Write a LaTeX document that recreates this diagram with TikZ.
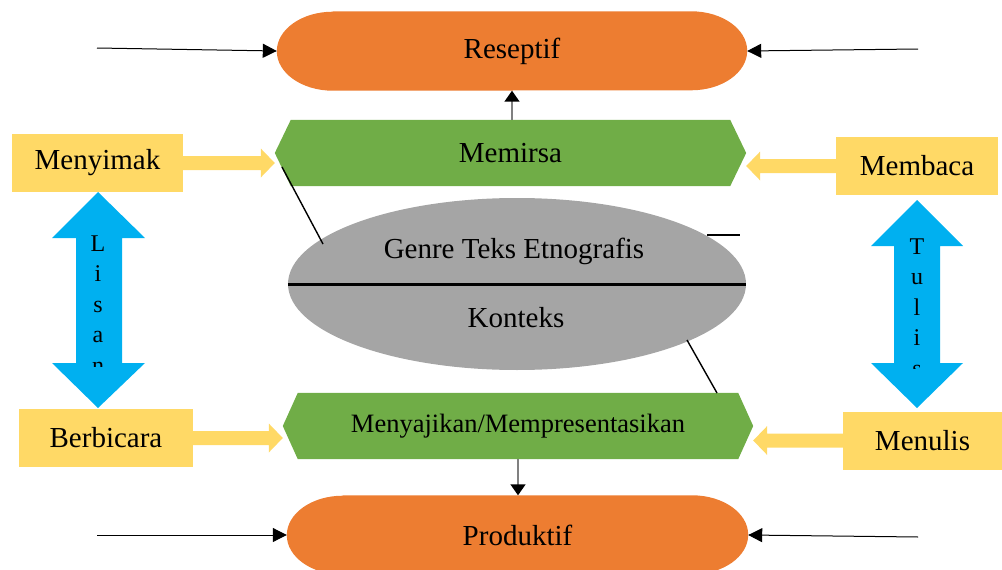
\documentclass[tikz,border=0pt]{standalone}
\usepackage{fontspec}
\setmainfont{Liberation Serif}
\usetikzlibrary{arrows.meta,calc,shapes.geometric,backgrounds}
\definecolor{oranye}{HTML}{ED7D31}
\definecolor{hijau}{HTML}{70AD47}
\definecolor{abu}{HTML}{A5A5A5}
\definecolor{kuning}{HTML}{FFD966}
\definecolor{biru}{HTML}{00B0F0}
\newcommand{\bigfont}{\fontsize{29}{34}\selectfont}
\newcommand{\smallfont}{\fontsize{26.5}{30}\selectfont}
\newcommand{\letterfont}{\fontsize{24}{28}\selectfont}
% yellow block arrow from a box to a hexagon tip
\newcommand{\fatarrow}[2]{%
  \fill[kuning] let \p1=#1, \p2=#2, \n1={sign(\x2-\x1)} in
    (\x1,{\y1+7pt}) -- ({\x2-14pt*(\n1)},{\y1+7pt}) -- ({\x2-14pt*(\n1)},{\y1+14.5pt})
    -- (\x2,\y1) -- ({\x2-14pt*(\n1)},{\y1-14.5pt}) -- ({\x2-14pt*(\n1)},{\y1-7pt})
    -- (\x1,{\y1-7pt}) -- cycle;}
% green hexagon behind a node
\newcommand{\hexfill}[2]{%
  \fill[hijau] (#1.west) -- ($(#1.north west)+(#2,0)$) -- ($(#1.north east)+(-#2,0)$)
    -- (#1.east) -- ($(#1.south east)+(-#2,0)$) -- ($(#1.south west)+(#2,0)$) -- cycle;}
% orange capsule with elliptic ends behind a node
\newcommand{\capfill}[1]{%
  \fill[oranye] ($(#1.north west)+(56,0)$) -- ($(#1.north east)+(-56,0)$)
    arc[start angle=90, end angle=-90, x radius=56pt, y radius=39.5pt]
    -- ($(#1.south west)+(56,0)$)
    arc[start angle=-90, end angle=-270, x radius=56pt, y radius=39.5pt] -- cycle;}

\begin{document}
\begin{tikzpicture}[x=1pt, y=-1pt, every node/.style={font=\bigfont, inner sep=0pt},
    stadium/.style={minimum height=79pt},
    hexa/.style={minimum width=471pt, minimum height=66pt},
    kotak/.style={fill=kuning, minimum height=58pt},
    panah/.style={line width=1pt, -{Triangle[length=14pt,width=14pt]}},
    panahabu/.style={draw=gray, line width=1.5pt, -{Triangle[length=11pt,width=15pt,color=black]}},
    garis/.style={line width=1.4pt}]
  \useasboundingbox (0,0) rectangle (1002,570);

  % top and bottom
  \node[stadium, minimum width=470pt] (reseptif) at (512,51) {Reseptif};
  \node[stadium, minimum width=461pt] (produktif) at (517.5,535) {Produktif};

  % hexagons
  \node[hexa] (memirsa) at (510.5,153) {Memirsa};
  \node[hexa, minimum width=470pt] (menyajikan) at (518,426) {\smallfont Menyajikan/Mempresentasikan};
  \begin{scope}[on background layer]
    \capfill{reseptif}
    \capfill{produktif}
    \hexfill{memirsa}{16}
    \hexfill{menyajikan}{15}
  \end{scope}

  % ellipse
  \node[ellipse, fill=abu, minimum width=458pt, minimum height=172pt] (teks) at (517,284) {};
  \draw[line width=3pt] (teks.west) -- (teks.east);
  \node (genre) at (514,251) {Genre Teks Etnografis};
  \node (konteks) at (516,318) {Konteks};

  % yellow boxes
  \node[kotak, minimum width=171pt] (menyimak) at (97.5,163) {Menyimak};
  \node[kotak, minimum width=174pt] (berbicara) at (106,438) {Berbicara};
  \node[kotak, minimum width=162pt] (membaca) at (917,166) {Membaca};
  \node[kotak, minimum width=159pt] (menulis) at (922.5,440.5) {Menulis};

  \fatarrow{(menyimak.east)}{(memirsa.west)}
  \fatarrow{(berbicara.east)}{(menyajikan.west)}
  \fatarrow{(membaca.west)}{(memirsa.east)}
  \fatarrow{(menulis.west)}{(menyajikan.east)}

  % thin arrows
  \coordinate (ra) at (97,48);
  \coordinate (rb) at (918,49);
  \coordinate (pa) at (97,535);
  \coordinate (pb) at (918,537);
  \draw[panah] (ra) -- (reseptif.west);
  \draw[panah] (rb) -- (reseptif.east);
  \draw[panah] (pa) -- (produktif.west);
  \draw[panah] (pb) -- (produktif.east);
  \draw[panahabu] (memirsa.north -| reseptif.south) -- (reseptif.south);
  \draw[panahabu] (menyajikan.south) -- (menyajikan.south |- produktif.north);

  % loose lines
  \coordinate (l1) at (282,167);
  \coordinate (l2) at (323,244);
  \coordinate (l3) at (687,340);
  \coordinate (l4) at (717,393);
  \draw[garis] (l1) -- (l2);
  \draw[garis] (l3) -- (l4);
  \draw[line width=2pt] (707,235) -- (740,235);

  % blue double arrows
  \fill[biru] (98,192) -- (145,238) -- (122,238) -- (122,363) -- (145,363) -- (98,408)
    -- (52,363) -- (76,363) -- (76,238) -- (52,238) -- cycle;
  \fill[biru] (917,200) -- (963,246) -- (940,246) -- (940,363) -- (963,363) -- (917,408)
    -- (871,363) -- (894,363) -- (894,246) -- (871,246) -- cycle;
  \begin{scope}
    \clip (50,190) rectangle (150,366);
    \foreach \ch [count=\i] in {L,i,s,a,n}
      \node[anchor=base, font=\letterfont] at (98,{251+30.5*(\i-1)}) {\ch};
  \end{scope}
  \begin{scope}
    \clip (865,195) rectangle (970,368);
    \foreach \ch [count=\i] in {T,u,l,i,s}
      \node[anchor=base, font=\letterfont] at (917,{254+30.5*(\i-1)}) {\ch};
  \end{scope}
\end{tikzpicture}
\end{document}
